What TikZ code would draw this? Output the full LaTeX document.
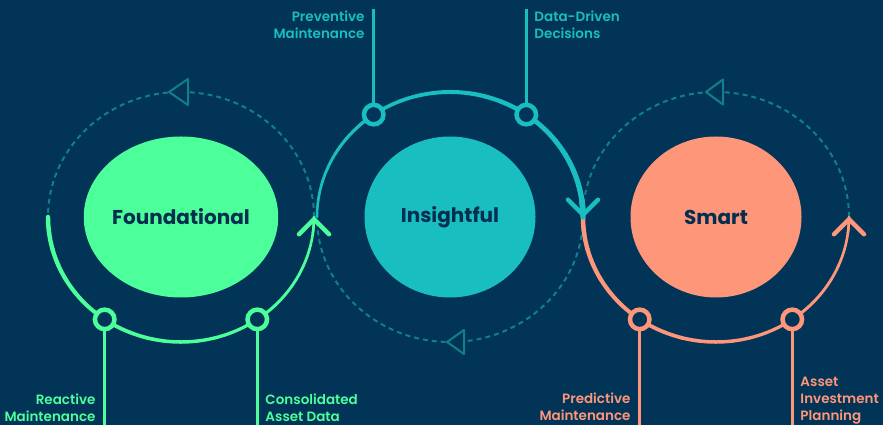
\documentclass[tikz,border=0pt]{standalone}
\usepackage{fontspec}
\setmainfont{Poppins}
\newfontfamily\tagfont{Poppins SemiBold}
\usepackage{xcolor}
\usetikzlibrary{shapes.geometric,arrows.meta,positioning,calc}

\definecolor{bg}{RGB}{2,52,88}
\definecolor{mint}{RGB}{76,255,154}
\definecolor{aqua}{RGB}{25,190,192}
\definecolor{coral}{RGB}{254,150,122}
\definecolor{dashteal}{RGB}{16,128,138}
\definecolor{ink}{RGB}{3,46,80}

% tapered ring arc: colour, hub, from, to, width at start, width at end
\newcommand{\taperarc}[6]{%
  \foreach \k in {1,...,24}{
    \pgfmathsetmacro{\arca}{#3+(#4-#3)*(\k-1)/24}
    \pgfmathsetmacro{\arcw}{#5+(#6-#5)*(\k-0.5)/24}
    \draw[#1, line width=\arcw pt, line cap=round] ($(#2)+(\arca:133 and 125)$) arc[start angle=\arca, delta angle={(#4-#3)/24}, x radius=133, y radius=125];
  }
  \pgfmathsetmacro{\arca}{#4-(#4-#3)/24}
  \draw[#1, line width=#6pt, -{Straight Barb[length=15pt, width=30pt, line width=4.5pt, round]}] ($(#2)+(\arca:133 and 125)$) arc[start angle=\arca, end angle=#4, x radius=133, y radius=125];
}

\begin{document}
\begin{tikzpicture}[x=1pt, y=1pt,
    hub/.style={ellipse, minimum width=171pt, minimum height=161pt, inner sep=0pt, text=ink, font=\bfseries\fontsize{20}{24}\selectfont},
    knob/.style={circle, fill=bg, line width=4.5pt, minimum size=19.5pt, inner sep=0pt},
    stem/.style={line width=3pt},
    dashring/.style={dashteal, line width=2pt, dash pattern=on 5pt off 4pt},
    marker/.style={fill=bg, draw=dashteal, line width=2pt, line join=round},
    tag/.style={inner sep=0pt, font=\tagfont\fontsize{13.5}{17}\selectfont}]

    \fill[bg] (0,0) rectangle (883,425);
    \useasboundingbox (0,0) rectangle (883,425);

    \node (found) [hub, fill=mint] at (181,208) {Foundational};
    \node (insight) [hub, fill=aqua] at (450,208) {Insightful};
    \node (smart) [hub, fill=coral] at (716,208) {Smart};

    \draw[dashring] ($(found)+(0:133 and 125)$) arc[start angle=0, end angle=180, x radius=133, y radius=125];
    \draw[dashring] ($(insight)+(0:133 and 125)$) arc[start angle=0, end angle=-180, x radius=133, y radius=125];
    \draw[dashring] ($(smart)+(0:133 and 125)$) arc[start angle=0, end angle=180, x radius=133, y radius=125];

    \filldraw[marker] ($(found)+(90:133 and 125)+(-12,0)$) -- ++(19,13) -- ++(0,-26) -- cycle;
    \filldraw[marker] ($(insight)+(270:133 and 125)+(-3,0)$) -- ++(17,12) -- ++(0,-24) -- cycle;
    \filldraw[marker] ($(smart)+(90:133 and 125)+(-10,0)$) -- ++(17,12.5) -- ++(0,-25) -- cycle;

    \taperarc{coral}{smart}{180}{360}{4.5}{2.5}
    \taperarc{aqua}{insight}{180}{0}{2.5}{5.5}
    \taperarc{mint}{found}{180}{360}{4.5}{2.5}

    \node (fc1) [knob, draw=mint] at ($(found)+(235:133 and 125)$) {};
    \node (fc2) [knob, draw=mint] at ($(found)+(305:133 and 125)$) {};
    \node (ic1) [knob, draw=aqua] at ($(insight)+(125:133 and 125)$) {};
    \node (ic2) [knob, draw=aqua] at ($(insight)+(55:133 and 125)$) {};
    \node (sc1) [knob, draw=coral] at ($(smart)+(235:133 and 125)$) {};
    \node (sc2) [knob, draw=coral] at ($(smart)+(305:133 and 125)$) {};

    \coordinate (fe1) at (fc1 |- 0,0);
    \coordinate (fe2) at (fc2 |- 0,0);
    \coordinate (ie1) at (ic1 |- 0,416);
    \coordinate (ie2) at (ic2 |- 0,416);
    \coordinate (se1) at (sc1 |- 0,0);
    \coordinate (se2) at (sc2 |- 0,0);

    \draw[stem, mint] (fc1) -- (fe1);
    \draw[stem, mint] (fc2) -- (fe2);
    \draw[stem, aqua] (ic1) -- (ie1);
    \draw[stem, aqua] (ic2) -- (ie2);
    \draw[stem, coral] (sc1) -- (se1);
    \draw[stem, coral] (sc2) -- (se2);

    \node (reactive) [tag, text=mint, align=right, anchor=south east] at ([shift={(-9,3.5)}]fe1) {Reactive\\Maintenance};
    \node (consol) [tag, text=mint, align=left, anchor=south west] at ([shift={(8,3.5)}]fe2) {Consolidated\\Asset Data};
    \node (prevent) [tag, text=aqua, align=right, anchor=north east] at ([shift={(-9,-2)}]ie1) {Preventive\\Maintenance};
    \node (datadriven) [tag, text=aqua, align=left, anchor=north west] at ([shift={(8,-2)}]ie2) {Data-Driven\\Decisions};
    \node (predict) [tag, text=coral, align=right, anchor=south east] at ([shift={(-9,4.5)}]se1) {Predictive\\Maintenance};
    \node (invest) [tag, text=coral, align=left, anchor=south west] at ([shift={(8,1)}]se2) {Asset\\Investment\\Planning};
\end{tikzpicture}
\end{document}
